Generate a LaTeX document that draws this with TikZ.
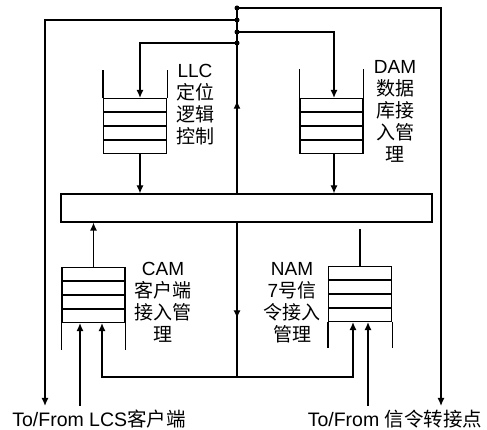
\documentclass[tikz,border=0pt]{standalone}
\usepackage{fontspec}
\setmainfont{Liberation Sans}
\newfontfamily\cjk{Noto Sans CJK SC}
\newcommand{\zh}[1]{{\cjk #1}}
\usetikzlibrary{arrows.meta, calc, decorations.markings}

\begin{document}
\begin{tikzpicture}[
    x=1pt, y=-1pt, line width=1.2pt,
    stackbox/.style={draw, minimum width=63pt, minimum height=55pt, inner sep=0pt},
    bus/.style={draw, minimum width=371pt, minimum height=28pt, inner sep=0pt},
    lbl/.style={align=center, inner sep=0pt, font=\fontsize{19}{22}\selectfont},
    ext/.style={inner sep=0pt, outer sep=4pt, font=\fontsize{19.5}{24}\selectfont},
    arrow/.style={-{Latex[length=8pt, width=7pt]}},
    midup/.style={decoration={markings, mark=at position 0.5 with {\arrow{Latex[length=8pt, width=7pt]}}}, postaction={decorate}},
    middown/.style={decoration={markings, mark=at position 0.62 with {\arrow{Latex[length=8pt, width=7pt]}}}, postaction={decorate}}
]
    \useasboundingbox (0,0) rectangle (487,430);

    % bus and the four queues
    \node[bus] (bus) at (246.5,208) {};

    \node[stackbox] (llc) at (135,126) {};
    \node[stackbox] (dam) at (331.5,126) {};
    \node[stackbox] (cam) at (93.5,295) {};
    \node[stackbox] (nam) at (360,294) {};

    \foreach \s in {llc,dam,cam,nam}
        \foreach \f in {0.25,0.5,0.75}
            \draw ($(\s.north west)!\f!(\s.south west)$) -- ($(\s.north east)!\f!(\s.south east)$);

    % open sides of the queues
    \draw (llc.north west) -- ++(0,-28) (llc.north east) -- ++(0,-28);
    \draw (dam.north west) -- ++(0,-29) (dam.north east) -- ++(0,-29);
    \draw (cam.south west) -- ++(0,27) (cam.south east) -- ++(0,27);
    \draw (nam.south west) -- ++(0,26) (nam.south east) -- ++(0,26);

    \node[lbl] (llctxt) at (195,105) {LLC\\\zh{定位}\\\zh{逻辑}\\\zh{控制}};
    \node[lbl] (damtxt) at (395,111) {DAM\\\zh{数据}\\\zh{库接}\\\zh{入管}\\\zh{理}};
    \node[lbl] (camtxt) at (163,302) {CAM\\\zh{客户端}\\\zh{接入管}\\\zh{理}};
    \node[lbl] (namtxt) at (292,303) {NAM\\7\zh{号信}\\\zh{令接入}\\\zh{管理}};

    \node[ext] (lcs) at (99,419) {To/From LCS\zh{客户端}};
    \node[ext] (stp) at (395,419) {To/From \zh{信令转接点}};

    % junctions on the centre line
    \coordinate (j1) at (237,8);
    \coordinate (j2) at (237,20);
    \coordinate (j3) at (237,32);
    \coordinate (j4) at (237,43);
    \coordinate (jb) at (237,377);

    \draw[midup] (bus.north -| j1) -- (j1);
    \draw[middown] (bus.south -| j1) -- (jb);
    \foreach \j in {j1,j2,j3,j4}
        \fill (\j) circle (2.5pt);

    \draw[arrow] (j1) -| ([xshift=46pt]stp.north);
    \draw[arrow] (j2) -| ([xshift=-54pt]lcs.north);
    \draw[arrow] (j3) -| ([xshift=2.5pt]dam.north);
    \draw[arrow] (j4) -| ([xshift=5pt]llc.north);

    \draw[arrow] ([xshift=5pt]llc.south) -- ([xshift=5pt]llc.south |- bus.north);
    \draw[arrow] ([xshift=2.5pt]dam.south) -- ([xshift=2.5pt]dam.south |- bus.north);
    \draw[arrow] (cam.north) -- (cam.north |- bus.south);
    \draw (nam.north) -- ([yshift=-6pt]nam.north |- bus.south);

    \draw[arrow] (jb) -| ([xshift=8.5pt]cam.south);
    \draw[arrow] (jb) -| ([xshift=-7pt]nam.south);

    \draw[arrow] ([xshift=-13.5pt]cam.south |- lcs.north) -- ([xshift=-13.5pt]cam.south);
    \draw[arrow] ([xshift=8pt]nam.south |- stp.north) -- ([xshift=8pt]nam.south);
\end{tikzpicture}
\end{document}
